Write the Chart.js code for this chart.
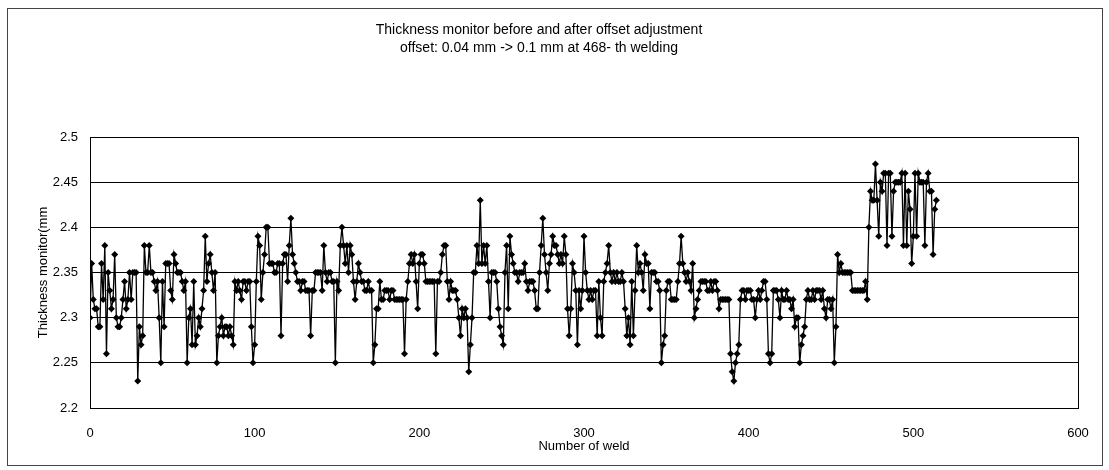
<!DOCTYPE html>
<html>
<head>
<meta charset="utf-8">
<script src="https://cdn.jsdelivr.net/npm/chart.js@4/dist/chart.umd.min.js"></script>
<style>
  body { margin: 0; background: #fff; }
  #wrap { width: 1109px; height: 470px; }
</style>
</head>
<body>
<div id="wrap"><canvas id="thicknessChart" width="1109" height="470"></canvas></div>
<script>
    var titleLines = [
        'Thickness monitor before and after offset adjustment',
        'offset: 0.04 mm -> 0.1 mm at 468- th welding'
    ];
    var xTitle = 'Number of weld';
    var yTitle = 'Thickness monitor(mm';
    var xTicks = [0, 100, 200, 300, 400, 500, 600];
    var yTicks = [2.2, 2.25, 2.3, 2.35, 2.4, 2.45, 2.5];

    // thickness per weld (weld 0 .. 514)
    var thickness = [
        2.30, 2.36, 2.32, 2.31, 2.31, 2.29, 2.29, 2.36, 2.32, 2.38, 2.26, 2.35, 2.33, 2.31, 2.32, 2.37, 2.30, 2.29, 2.29, 2.30,
        2.32, 2.34, 2.31, 2.32, 2.35, 2.32, 2.35, 2.35, 2.35, 2.23, 2.29, 2.27, 2.28, 2.38, 2.35, 2.35, 2.38, 2.35, 2.35, 2.34,
        2.33, 2.34, 2.30, 2.25, 2.34,
        2.29, 2.36, 2.36, 2.36, 2.33, 2.32, 2.37, 2.36, 2.35, 2.35, 2.35, 2.34, 2.33, 2.34, 2.25, 2.30, 2.31, 2.27, 2.34, 2.27,
        2.28, 2.30, 2.29, 2.31, 2.33, 2.39, 2.34, 2.36, 2.37, 2.35, 2.33, 2.35, 2.25, 2.28, 2.29, 2.30, 2.28, 2.29, 2.29, 2.28,
        2.29, 2.28, 2.27, 2.34, 2.33, 2.34, 2.33,
        2.32, 2.34, 2.34, 2.33, 2.34, 2.34, 2.29, 2.25, 2.27, 2.34, 2.39, 2.38, 2.32, 2.35, 2.37, 2.40, 2.40, 2.36, 2.36, 2.36,
        2.35, 2.35, 2.36, 2.36, 2.28, 2.36, 2.37, 2.37, 2.34, 2.38, 2.41, 2.37, 2.36, 2.35, 2.34, 2.34, 2.33, 2.34, 2.34, 2.33,
        2.33, 2.33, 2.28, 2.33, 2.33, 2.35, 2.35, 2.35,
        2.35, 2.33, 2.38, 2.35, 2.34, 2.35, 2.35, 2.34, 2.34, 2.25, 2.34, 2.33, 2.38, 2.40, 2.38, 2.36, 2.38, 2.35, 2.38, 2.37,
        2.34, 2.32, 2.34, 2.36, 2.35, 2.34, 2.34, 2.33, 2.33, 2.34, 2.33, 2.33, 2.25, 2.27, 2.31, 2.31, 2.34, 2.32, 2.32, 2.33,
        2.33, 2.33, 2.32, 2.33, 2.33, 2.32, 2.32,
        2.32, 2.32, 2.32, 2.32, 2.26, 2.32, 2.34, 2.36, 2.37, 2.36, 2.37, 2.34, 2.31, 2.36, 2.37, 2.37, 2.36, 2.34, 2.34, 2.34,
        2.34, 2.34, 2.34, 2.26, 2.34, 2.34, 2.35, 2.37, 2.38, 2.38, 2.34, 2.32, 2.34, 2.33, 2.33, 2.33, 2.32, 2.30, 2.28, 2.31,
        2.30, 2.31, 2.30, 2.24, 2.27, 2.30, 2.35,
        2.35, 2.38, 2.36, 2.43, 2.36, 2.38, 2.36, 2.38, 2.34, 2.30, 2.35, 2.35, 2.35, 2.34, 2.31, 2.29, 2.28, 2.27, 2.35, 2.38,
        2.31, 2.39, 2.37, 2.36, 2.35, 2.35, 2.34, 2.35, 2.35, 2.35, 2.36, 2.34, 2.33, 2.34, 2.34, 2.34, 2.33, 2.31, 2.31, 2.35,
        2.38, 2.41, 2.37, 2.35, 2.33, 2.36, 2.37, 2.39,
        2.38, 2.38, 2.37, 2.36, 2.37, 2.36, 2.39, 2.37, 2.31, 2.28, 2.31, 2.36, 2.35, 2.33, 2.27, 2.33, 2.31, 2.33, 2.39, 2.35,
        2.33, 2.32, 2.33, 2.32, 2.33, 2.33, 2.28, 2.34, 2.30, 2.28, 2.34, 2.35, 2.36, 2.38, 2.35, 2.34, 2.35, 2.34, 2.35, 2.34,
        2.34, 2.35, 2.34, 2.31, 2.28, 2.30, 2.27,
        2.34, 2.28, 2.33, 2.38, 2.35, 2.36, 2.35, 2.33, 2.37, 2.36, 2.36, 2.31, 2.35, 2.35, 2.35, 2.34, 2.34, 2.33, 2.25, 2.27,
        2.28, 2.33, 2.34, 2.34, 2.32, 2.32, 2.32, 2.32, 2.34, 2.36, 2.39, 2.36, 2.35, 2.34, 2.35, 2.34, 2.33, 2.36, 2.30, 2.31,
        2.32, 2.33, 2.34, 2.34, 2.34, 2.34, 2.33, 2.33,
        2.34, 2.33, 2.34, 2.34, 2.33, 2.31, 2.32, 2.32, 2.32, 2.32, 2.32, 2.32, 2.26, 2.24, 2.23, 2.25, 2.26, 2.27, 2.32, 2.33,
        2.33, 2.32, 2.33, 2.33, 2.33, 2.32, 2.32, 2.30, 2.32, 2.33, 2.32, 2.33, 2.34, 2.34, 2.32, 2.26, 2.25, 2.26, 2.33, 2.33,
        2.33, 2.32, 2.30, 2.33, 2.32, 2.32, 2.33,
        2.32, 2.32, 2.31, 2.32, 2.29, 2.30, 2.30, 2.25, 2.27, 2.28, 2.29, 2.32, 2.33, 2.32, 2.32, 2.33, 2.32, 2.33, 2.33, 2.33,
        2.32, 2.33, 2.31, 2.30, 2.32, 2.32, 2.31, 2.32, 2.25, 2.29, 2.37, 2.35, 2.36, 2.35, 2.35, 2.35, 2.35, 2.35, 2.35, 2.33,
        2.33, 2.33, 2.33, 2.33, 2.33, 2.33, 2.33, 2.34,
        2.32, 2.40, 2.44, 2.43, 2.43, 2.47, 2.43, 2.39, 2.45, 2.44, 2.46, 2.46, 2.38, 2.46, 2.46, 2.39, 2.44, 2.45, 2.45, 2.45,
        2.45, 2.46, 2.38, 2.46, 2.38, 2.44, 2.42, 2.36, 2.39, 2.46, 2.39, 2.46, 2.45, 2.45, 2.45, 2.38, 2.45, 2.46, 2.44, 2.44,
        2.37, 2.42, 2.43
    ];

    var fontFamily = '"Liberation Sans", Arial, sans-serif';

    var points = [];
    for (var i = 0; i < thickness.length; i++) {
        points.push({ x: i, y: thickness[i] });
    }

    // white page + thin outer frame, and a box round the plot area
    var framePlugin = {
        id: 'frame',
        beforeDraw: function (chart) {
            var ctx = chart.ctx;
            ctx.save();
            ctx.fillStyle = '#fff';
            ctx.fillRect(0, 0, chart.width, chart.height);
            ctx.strokeStyle = '#444';
            ctx.lineWidth = 1;
            ctx.strokeRect(7.5, 8.5, 1095, 457);
            ctx.restore();
        },
        beforeDatasetsDraw: function (chart) {
            var a = chart.chartArea;
            var ctx = chart.ctx;
            ctx.save();
            ctx.strokeStyle = '#000';
            ctx.lineWidth = 1;
            ctx.strokeRect(Math.round(a.left) + 0.5, Math.round(a.top) + 0.5,
                Math.round(a.right - a.left), Math.round(a.bottom - a.top));
            ctx.restore();
        }
    };

    const config = {
        type: 'line',
        data: {
            datasets: [{
                label: 'Thickness',
                data: points,
                borderColor: '#000',
                backgroundColor: '#000',
                borderWidth: 1.3,
                pointStyle: 'rectRot',
                pointRadius: 3.5,
                pointBorderWidth: 0,
                tension: 0
            }]
        },
        options: {
            responsive: false,
            animation: false,
            events: [],
            layout: {
                padding: { top: 0, right: 31, bottom: 0, left: 0 }
            },
            plugins: {
                legend: { display: false },
                tooltip: { enabled: false },
                title: {
                    display: true,
                    text: titleLines,
                    color: '#000',
                    font: { family: fontFamily, size: 14, weight: 'normal', lineHeight: 1.3 },
                    padding: { top: 21, bottom: 79.6 }
                }
            },
            scales: {
                x: {
                    type: 'linear',
                    min: 0,
                    max: 600,
                    afterBuildTicks: function (scale) {
                        scale.ticks = xTicks.map(function (v) { return { value: v }; });
                    },
                    afterFit: function (scale) { scale.height = 62; },
                    grid: { display: false },
                    border: { display: false },
                    ticks: {
                        color: '#000',
                        padding: 10,
                        maxRotation: 0,
                        font: { family: fontFamily, size: 13 }
                    },
                    title: {
                        display: true,
                        text: xTitle,
                        color: '#000',
                        font: { family: fontFamily, size: 13 },
                        padding: { top: 0, bottom: 16 }
                    }
                },
                y: {
                    min: 2.2,
                    max: 2.5,
                    afterBuildTicks: function (scale) {
                        scale.ticks = yTicks.map(function (v) { return { value: v }; });
                    },
                    afterFit: function (scale) { scale.width = 90; },
                    grid: { color: '#000', lineWidth: 1, drawTicks: false },
                    border: { display: false },
                    ticks: {
                        color: '#000',
                        padding: 12,
                        font: { family: fontFamily, size: 13 },
                        callback: function (v) { return String(Math.round(v * 100) / 100); }
                    },
                    title: {
                        display: true,
                        text: yTitle,
                        color: '#000',
                        font: { family: fontFamily, size: 13 },
                        padding: { top: 36, bottom: 0 }
                    }
                }
            }
        },
        plugins: [framePlugin]
    };

    new Chart(document.getElementById('thicknessChart'), config);
</script>
</body>
</html>
